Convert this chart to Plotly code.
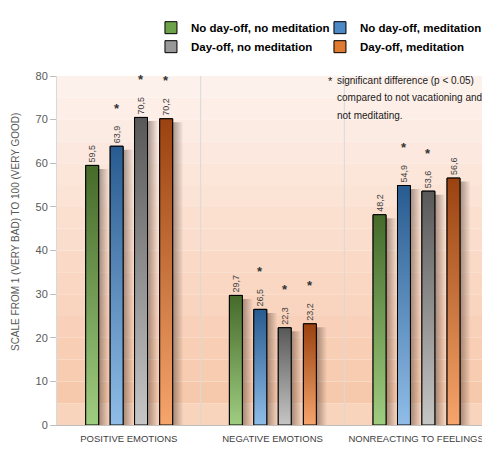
import plotly.graph_objects as go

# data
categories = ["POSITIVE EMOTIONS", "NEGATIVE EMOTIONS", "NONREACTING TO FEELINGS"]
series_names = ["No day-off, no meditation", "No day-off, meditation",
                "Day-off, no meditation", "Day-off, meditation"]
no_dayoff_no_med = [59.5, 29.7, 48.2]
no_dayoff_med = [63.9, 26.5, 54.9]
dayoff_no_med = [70.5, 22.3, 53.6]
dayoff_med = [70.2, 23.2, 56.6]
# * = significant difference vs not vacationing and not meditating
signif_no_dayoff_no_med = [False, False, False]
signif_no_dayoff_med = [True, True, True]
signif_dayoff_no_med = [True, True, True]
signif_dayoff_med = [True, True, False]

series_values = [no_dayoff_no_med, no_dayoff_med, dayoff_no_med, dayoff_med]
series_signif = [signif_no_dayoff_no_med, signif_no_dayoff_med,
                 signif_dayoff_no_med, signif_dayoff_med]

note_lines = ["significant difference (p &lt; 0.05)",
              "compared to not vacationing and",
              "not meditating."]

# styles
offsets = [-0.30, -0.13, 0.04, 0.215]
W = 0.09
solid = ["#6ea24a", "#4c89c6", "#989898", "#de7a32"]
tops = ["#456a2a", "#285b90", "#585858", "#9a4210"]
bottoms = ["#9fcd80", "#8fbde8", "#c6c6c6", "#f6a56c"]
FONT = "Liberation Sans"

fig = go.Figure()

# background bands (light at top, peach at bottom)
def mix(c1, c2, t):
    a = [int(c1[i:i + 2], 16) for i in (1, 3, 5)]
    b = [int(c2[i:i + 2], 16) for i in (1, 3, 5)]
    return "rgb(%d,%d,%d)" % tuple(round(a[k] + (b[k] - a[k]) * t) for k in range(3))

shapes = []
for k in range(16):
    lo = k * 5
    col = mix("#f7c6a8", "#fdf1eb", k / 15) if k > 0 else "#f9d4bd"
    shapes.append(dict(type="rect", xref="x domain", yref="y", x0=0, x1=1,
                       y0=lo, y1=lo + 5, fillcolor=col, line_width=0, layer="below"))
for xs in [0.5, 1.5]:
    shapes.append(dict(type="line", xref="x", yref="y", x0=xs, x1=xs, y0=0, y1=80,
                       line=dict(color="#d9d9d9", width=1), layer="below"))

xs_base = list(range(len(categories)))

for s in range(4):
    vals = series_values[s]
    fig.add_trace(go.Bar(
        x=xs_base, y=vals, name=series_names[s], offset=offsets[s], width=W,
        marker=dict(color=solid[s], line=dict(color="black", width=1)),
        texttemplate="%{y:.1f}", textposition="outside", textangle=-90,
        constraintext="none", cliponaxis=False,
        textfont=dict(family=FONT, size=9, color="#404040"),
        hoverinfo="skip"))

# shadows and gradient fills on top of the bars
for s in range(4):
    vals = series_values[s]
    for i, v in enumerate(vals):
        x0 = i + offsets[s]
        x1 = x0 + W
        fig.add_trace(go.Scatter(
            x=[x1, x1, x1 + 0.075, x1 + 0.075, x1], y=[0, v - 0.8, v - 0.8, 0, 0],
            fill="toself", mode="lines", line=dict(width=0),
            fillgradient=dict(type="horizontal",
                              colorscale=[[0, "rgba(60,40,30,0.45)"], [1, "rgba(60,40,30,0)"]]),
            showlegend=False, hoverinfo="skip"))
        fig.add_trace(go.Scatter(
            x=[x0, x0, x1, x1, x0], y=[0, v, v, 0, 0],
            fill="toself", mode="lines", line=dict(color="black", width=1),
            fillgradient=dict(type="vertical",
                              colorscale=[[0, bottoms[s]], [1, tops[s]]]),
            showlegend=False, hoverinfo="skip"))

annotations = []
for s in range(4):
    for i, v in enumerate(series_values[s]):
        if series_signif[s][i]:
            annotations.append(dict(
                x=i + offsets[s] + W / 2, y=v, xref="x", yref="y", text="*",
                showarrow=False, yshift=38, yanchor="middle",
                font=dict(family=FONT, size=13, color="#333333", weight="bold")))

# footnote, one annotation per line
annotations.append(dict(xref="paper", yref="paper", x=0.634, y=0.9865, xanchor="center",
                        yanchor="middle", showarrow=False, text="*",
                        font=dict(family=FONT, size=11, color="#1a1a1a")))
for j, line in enumerate(note_lines):
    annotations.append(dict(
        xref="paper", yref="paper", x=0.645, y=[0.9865, 0.939, 0.888][j],
        xanchor="left", yanchor="middle", showarrow=False, text=line,
        font=dict(family=FONT, size=10, color="#1a1a1a")))

# y axis title
annotations.append(dict(
    xref="paper", yref="paper", x=-0.0974, y=0.553, textangle=-90,
    xanchor="center", yanchor="middle", showarrow=False,
    text="SCALE FROM 1 (VERY BAD) TO 100 (VERY GOOD)",
    font=dict(family=FONT, size=10, color="#595959")))

fig.update_layout(
    width=482, height=445,
    margin=dict(l=49, r=2, t=68, b=28, autoexpand=False),
    paper_bgcolor="white", plot_bgcolor="white",
    barmode="overlay", separators=",.",
    shapes=shapes, annotations=annotations,
    showlegend=True,
    legend=dict(orientation="h", x=0.218, xanchor="left", y=1.18, yanchor="top",
                entrywidth=124, entrywidthmode="pixels",
                font=dict(family=FONT, size=11.5, color="black", weight="bold"),
                bgcolor="rgba(0,0,0,0)"),
    xaxis=dict(range=[-0.5, 2.5], tickvals=xs_base, ticktext=categories,
               showgrid=False, zeroline=False, showline=True, linecolor="#bfbfbf",
               ticks="", ticklabelstandoff=5,
               tickfont=dict(family=FONT, size=9.5, color="#404040")),
    yaxis=dict(range=[0, 80], dtick=10, showgrid=False, zeroline=False,
               showline=True, linecolor="#d9d9d9", ticks="outside", ticklen=6,
               tickcolor="#bfbfbf",
               tickfont=dict(family=FONT, size=11, color="#595959")),
)

fig.write_html("out.html")
